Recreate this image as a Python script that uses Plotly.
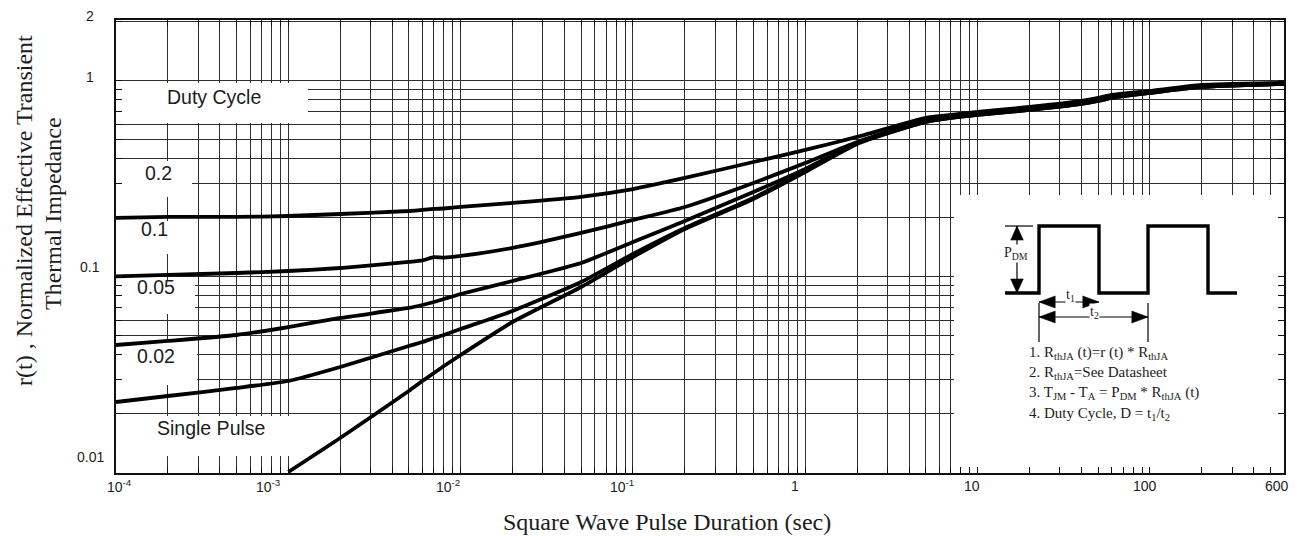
import math
import plotly.graph_objects as go

# ---------------------------------------------------------------------------
# Normalized transient thermal impedance r(t) versus square-wave pulse width
# ---------------------------------------------------------------------------
pulse_time = [1e-4, 2e-4, 5e-4, 1e-3, 2e-3, 5e-3, 6e-3, 7e-3, 8e-3, 1e-2, 2e-2, 5e-2,
              0.1, 0.2, 0.5, 1, 2, 5, 7, 10, 20, 40, 50, 60, 100, 200, 600]

r_duty_020 = [0.2000, 0.2024, 0.2024, 0.2047, 0.2096, 0.2171, 0.2197, 0.2223, 0.2236,
              0.2276, 0.2386, 0.2565, 0.2810, 0.3200, 0.3861, 0.4446, 0.5180, 0.6475,
              0.6707, 0.6948, 0.7368, 0.7907, 0.8190, 0.8484, 0.8892, 0.9541, 0.9768]

r_duty_010 = [0.1006, 0.1024, 0.1048, 0.1073, 0.1111, 0.1193, 0.1215, 0.1262, 0.1255,
              0.1280, 0.1406, 0.1677, 0.1954, 0.2276, 0.3017, 0.3816, 0.4886, 0.6324,
              0.6629, 0.6867, 0.7282, 0.7815, 0.8095, 0.8384, 0.8788, 0.9430, 0.9710]

r_duty_005 = [0.04497, 0.04715, 0.05059, 0.05556, 0.06177, 0.06947, 0.07197, 0.07455,
              0.07724, 0.08190, 0.09541, 0.1179, 0.1509, 0.1931, 0.2714, 0.3556, 0.4829,
              0.6251, 0.6552, 0.6786, 0.7197, 0.7724, 0.8000, 0.8287, 0.8788, 0.9430, 0.9654]

r_duty_002 = [0.02302, 0.02471, 0.02715, 0.02947, 0.03474, 0.04446, 0.04660, 0.04884,
              0.05059, 0.05429, 0.06707, 0.0943, 0.1310, 0.1778, 0.2530, 0.3474, 0.4829,
              0.6177, 0.6475, 0.6707, 0.7112, 0.7634, 0.7907, 0.8190, 0.8685, 0.9320, 0.9654]

r_single = [None, None, None, 0.01012, 0.01509, 0.02620, 0.02947, 0.03237, 0.03516,
            0.04000, 0.05892, 0.0889, 0.1265, 0.1758, 0.2500, 0.3434, 0.4772, 0.6177,
            0.6475, 0.6707, 0.7112, 0.7634, 0.7907, 0.8190, 0.8685, 0.9320, 0.9654]

curve_labels = ["0.2", "0.1", "0.05", "0.02", "Single Pulse"]

x_tick_vals = [1e-4, 1e-3, 1e-2, 1e-1, 1, 10, 100, 600]
x_tick_text = ["10<sup>-4</sup>", "10<sup>-3</sup>", "10<sup>-2</sup>", "10<sup>-1</sup>",
               "1", "10", "100", "600"]
y_tick_vals = [2, 1, 0.1, 0.01]
y_tick_text = ["2", "1", "0.1", "0.01"]

notes = [
    "1. R<sub>thJA</sub> (t)=r (t) * R<sub>thJA</sub>",
    "2. R<sub>thJA</sub>=See Datasheet",
    "3. T<sub>JM</sub> - T<sub>A</sub> = P<sub>DM</sub> * R<sub>thJA</sub> (t)",
    "4. Duty Cycle, D = t<sub>1</sub>/t<sub>2</sub>",
]

# ---------------------------------------------------------------------------
# page geometry
# ---------------------------------------------------------------------------
FIG_W, FIG_H = 1303, 536
M_L, M_R, M_T, M_B = 116, 19, 20, 63
PLOT_W = FIG_W - M_L - M_R
PLOT_H = FIG_H - M_T - M_B

X_RANGE = [-4, math.log10(600)]
Y_RANGE = [-2, 0.311]


def fx(px):
    """horizontal page pixel -> plot-frame fraction"""
    return (px - M_L) / PLOT_W


def fy(py):
    """vertical page pixel (from top) -> plot-frame fraction"""
    return (FIG_H - M_B - py) / PLOT_H


def frame_to_x(f):
    return 10 ** (X_RANGE[0] + f * (X_RANGE[1] - X_RANGE[0]))


def frame_to_y(f):
    return 10 ** (Y_RANGE[0] + f * (Y_RANGE[1] - Y_RANGE[0]))


SANS = "Liberation Sans, Arial, sans-serif"
SERIF = "Liberation Serif, Times New Roman, serif"
INK = "#1c1c1c"
GRID = "#2e2e2e"

# grid lines at every 1..9 multiple of each decade
x_grid = [m * 10.0 ** d for d in range(-4, 3) for m in range(1, 10) if m * 10.0 ** d <= 600]
y_grid = [m * 10.0 ** d for d in range(-2, 0) for m in range(1, 10)] + [1, 2]

fig = go.Figure()

# ---------------------------------------------------------------------------
# white patches behind labels and the inset (above the grid, below the curves)
# ---------------------------------------------------------------------------
patches = [
    (116, 83, 308, 123),    # Duty Cycle
    (116, 161, 192, 197),   # 0.2
    (116, 221, 192, 254),   # 0.1
    (116, 280, 195, 314),   # 0.05
    (116, 341, 197, 385),   # 0.02
    (116, 416, 290, 456),   # Single Pulse
    (954, 195, 1283, 467),  # inset
]
px_, py_ = [], []
for x0, y0, x1, y1 in patches:
    a0, a1 = frame_to_x(fx(x0)), frame_to_x(fx(x1))
    b0, b1 = frame_to_y(fy(y1)), frame_to_y(fy(y0))
    px_ += [a0, a1, a1, a0, a0, None]
    py_ += [b0, b0, b1, b1, b0, None]
fig.add_trace(go.Scatter(x=px_, y=py_, mode="lines", fill="toself", fillcolor="white",
                         line=dict(color="white", width=0), hoverinfo="skip",
                         xaxis="x", yaxis="y"))

for series in [r_duty_020, r_duty_010, r_duty_005, r_duty_002, r_single]:
    fig.add_trace(go.Scatter(
        x=pulse_time, y=series, mode="lines",
        line=dict(color="black", width=3.8, shape="spline", smoothing=0.5),
        hoverinfo="skip", xaxis="x", yaxis="y",
    ))

# ---------------------------------------------------------------------------
# inset: pulse train diagram (time in units of t1, power in units of PDM)
# ---------------------------------------------------------------------------
T1, T2 = 1.0, 1.817
wave_x = [-0.567, 0, 0, T1, T1, T2, T2, T2 + T1, T2 + T1, 3.3]
wave_y = [0, 0, 1, 1, 0, 0, 1, 1, 0, 0]
fig.add_trace(go.Scatter(x=wave_x, y=wave_y, mode="lines",
                         line=dict(color="black", width=3.4),
                         hoverinfo="skip", xaxis="x2", yaxis="y2"))

PDM_X = -0.367
T1_Y, T2_Y = -0.134, -0.358
thin_x = [PDM_X, PDM_X, None, -0.567, -0.10, None, 0, T1, None, 0, T2, None,
          0, 0, None, T2, T2]
thin_y = [0, 1, None, 1, 1, None, T1_Y, T1_Y, None, T2_Y, T2_Y, None,
          -0.15, -0.73, None, -0.15, -0.73]
fig.add_trace(go.Scatter(x=thin_x, y=thin_y, mode="lines",
                         line=dict(color="black", width=1.2),
                         hoverinfo="skip", xaxis="x2", yaxis="y2"))


def head(tx, ty, dx, dy):
    """filled arrow head with its tip at (tx, ty) pointing along (dx, dy)"""
    if dx == 0:
        L, hw = 0.21, 0.105
        return [tx, tx - hw, tx + hw, tx, None], [ty, ty - dy * L, ty - dy * L, ty, None]
    L, hh = 0.27, 0.09
    return [tx, tx - dx * L, tx - dx * L, tx, None], [ty, ty - hh, ty + hh, ty, None]


hx, hy = [], []
for tip in [(PDM_X, 1, 0, 1), (PDM_X, 0, 0, -1), (0, T1_Y, -1, 0), (T1, T1_Y, 1, 0),
            (0, T2_Y, -1, 0), (T2, T2_Y, 1, 0)]:
    a, b = head(*tip)
    hx += a
    hy += b
fig.add_trace(go.Scatter(x=hx, y=hy, mode="lines", fill="toself", fillcolor="black",
                         line=dict(color="black", width=0.5),
                         hoverinfo="skip", xaxis="x2", yaxis="y2"))

annotations = []

# tick labels
x_label_shift = [3, -20, -13, -11, -10, -6, -5, -7]
for v, t, s in zip(x_tick_vals, x_tick_text, x_label_shift):
    annotations.append(dict(x=math.log10(v), y=0, xref="x", yref="paper", text=t,
                            showarrow=False, xanchor="center", yanchor="middle",
                            xshift=s, yshift=-13,
                            font=dict(family=SANS, size=14, color=INK)))
y_label_shift = [6, 4, 10, 16]
for v, t, s in zip(y_tick_vals, y_tick_text, y_label_shift):
    annotations.append(dict(x=fx(90), y=math.log10(v), xref="paper", yref="y", text=t,
                            showarrow=False, xanchor="center", yanchor="middle",
                            yshift=s, font=dict(family=SANS, size=14, color=INK)))

# curve labels
label_pos = [(158, 173), (154, 229), (156, 287), (156, 356), (211, 428)]
for t, (lx, ly) in zip(curve_labels, label_pos):
    annotations.append(dict(x=fx(lx), y=fy(ly), xref="paper", yref="paper", text=t,
                            showarrow=False, xanchor="center", yanchor="middle",
                            font=dict(family=SANS, size=19.5, color=INK)))
annotations.append(dict(x=fx(214), y=fy(97), xref="paper", yref="paper", text="Duty Cycle",
                        showarrow=False, xanchor="center", yanchor="middle",
                        font=dict(family=SANS, size=19.5, color=INK)))

# axis titles
annotations.append(dict(x=fx(667), y=fy(522), xref="paper", yref="paper",
                        text="Square Wave Pulse Duration (sec)", showarrow=False,
                        xanchor="center", yanchor="middle",
                        font=dict(family=SERIF, size=24, color=INK)))
annotations.append(dict(x=fx(24), y=fy(211), xref="paper", yref="paper",
                        text="r(t) , Normalized Effective Transient", showarrow=False,
                        textangle=-90, xanchor="center", yanchor="middle",
                        font=dict(family=SERIF, size=24, color=INK)))
annotations.append(dict(x=fx(53), y=fy(214), xref="paper", yref="paper",
                        text="Thermal Impedance", showarrow=False,
                        textangle=-90, xanchor="center", yanchor="middle",
                        font=dict(family=SERIF, size=24, color=INK)))

# inset labels
annotations.append(dict(x=PDM_X - 0.02, y=0.597, xref="x2", yref="y2",
                        text="P<sub>DM</sub>", showarrow=False, bgcolor="white",
                        borderpad=0, font=dict(family=SERIF, size=14, color=INK)))
annotations.append(dict(x=0.517, y=-0.03, xref="x2", yref="y2",
                        text="t<sub>1</sub>", showarrow=False, bgcolor="white",
                        borderpad=0, font=dict(family=SERIF, size=14, color=INK)))
annotations.append(dict(x=0.917, y=-0.284, xref="x2", yref="y2",
                        text="t<sub>2</sub>", showarrow=False, bgcolor="white",
                        borderpad=0, font=dict(family=SERIF, size=14, color=INK)))
note_y = [-0.896, -1.194, -1.493, -1.806]
for line, ny in zip(notes, note_y):
    annotations.append(dict(x=-0.2, y=ny, xref="x2", yref="y2", text=line,
                            showarrow=False, xanchor="left", yanchor="middle",
                            font=dict(family=SERIF, size=15, color=INK)))

axis_common = dict(
    type="log", showticklabels=False, ticks="inside", ticklen=6, tickwidth=1.2,
    tickcolor="#111", showgrid=True, gridcolor=GRID, gridwidth=1.2,
    showline=True, linecolor="#111", linewidth=1.6, mirror="ticks", zeroline=False,
)

fig.update_layout(
    width=FIG_W, height=FIG_H,
    margin=dict(l=M_L, r=M_R, t=M_T, b=M_B),
    paper_bgcolor="white", plot_bgcolor="rgba(0,0,0,0)",
    showlegend=False,
    xaxis=dict(range=X_RANGE, tickvals=x_grid, **axis_common),
    yaxis=dict(range=Y_RANGE, tickvals=y_grid, **axis_common),
    xaxis2=dict(domain=[fx(954), fx(1283)], range=[-1.417, 4.067], anchor="y2",
                visible=False, fixedrange=True),
    yaxis2=dict(domain=[fy(467), fy(195)], range=[-2.597, 1.463], anchor="x2",
                visible=False, fixedrange=True),
    annotations=annotations,
)

fig.write_html("out.html", config={"displayModeBar": False})
